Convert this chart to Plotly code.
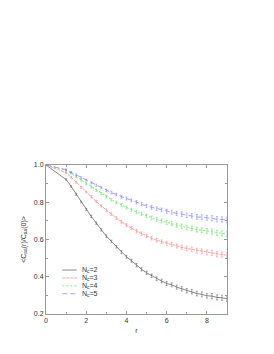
import plotly.graph_objects as go

r = [0, 1, 1.25, 1.5, 1.75, 2, 2.25, 2.5, 2.75, 3, 3.25, 3.5, 3.75, 4, 4.25, 4.5, 4.75,
     5, 5.25, 5.5, 5.75, 6, 6.25, 6.5, 6.75, 7, 7.25, 7.5, 7.75, 8, 8.25, 8.5, 8.75, 9]

c_n2 = [1.0, 0.922, 0.885, 0.843, 0.801, 0.761, 0.724, 0.688, 0.652, 0.618, 0.590, 0.561,
        0.532, 0.507, 0.486, 0.462, 0.440, 0.421, 0.405, 0.389, 0.377, 0.364, 0.357, 0.344,
        0.335, 0.325, 0.320, 0.310, 0.305, 0.298, 0.296, 0.289, 0.287, 0.282]
c_n3 = [1.0, 0.959, 0.934, 0.907, 0.880, 0.855, 0.830, 0.804, 0.780, 0.757, 0.736, 0.715,
        0.695, 0.677, 0.661, 0.645, 0.632, 0.618, 0.607, 0.596, 0.588, 0.579, 0.573, 0.565,
        0.558, 0.552, 0.547, 0.540, 0.536, 0.530, 0.528, 0.521, 0.519, 0.516]
c_n4 = [1.0, 0.972, 0.955, 0.937, 0.918, 0.900, 0.882, 0.864, 0.846, 0.829, 0.814, 0.799,
        0.785, 0.772, 0.760, 0.748, 0.737, 0.725, 0.716, 0.707, 0.700, 0.691, 0.685, 0.677,
        0.671, 0.664, 0.660, 0.653, 0.650, 0.645, 0.642, 0.635, 0.633, 0.629]
c_n5 = [1.0, 0.975, 0.961, 0.947, 0.932, 0.918, 0.904, 0.891, 0.877, 0.864, 0.852, 0.841,
        0.830, 0.820, 0.810, 0.800, 0.790, 0.780, 0.773, 0.765, 0.759, 0.752, 0.747, 0.740,
        0.736, 0.730, 0.727, 0.721, 0.720, 0.716, 0.714, 0.709, 0.708, 0.704]

err = [0.0, 0.004, 0.004, 0.005, 0.005, 0.005, 0.006, 0.006, 0.006, 0.007, 0.007, 0.007,
       0.008, 0.008, 0.008, 0.009, 0.009, 0.009, 0.010, 0.010, 0.010, 0.011, 0.011, 0.011,
       0.012, 0.012, 0.012, 0.013, 0.013, 0.013, 0.014, 0.014, 0.014, 0.015]

n_values = [2, 3, 4, 5]
series = [c_n2, c_n3, c_n4, c_n5]
colors = ["#555555", "#ff7878", "#50dd50", "#7878ff"]
dashes = ["solid", "3px,1px", "2px,2px", "5px,3px"]

x_ticks = [0, 2, 4, 6, 8]
y_ticks = [0.2, 0.4, 0.6, 0.8, 1.0]
y_tick_labels = ["0.2", "0.4", "0.6", "0.8", "1.0"]

fig = go.Figure()
for n, ys, col, dsh in zip(n_values, series, colors, dashes):
    fig.add_trace(go.Scatter(
        x=r, y=ys, mode="lines", name=f"N<sub>c</sub>={n}",
        line=dict(color=col, width=0.7, dash=dsh),
        error_y=dict(type="data", array=err, visible=True, color=col, thickness=0.5, width=1),
        showlegend=False,
    ))

font = "Liberation Sans, Arial, sans-serif"
frame = "#999999"
txt = "#333333"
axis_common = dict(showline=True, linecolor=frame, linewidth=1, mirror="ticks",
                   ticks="inside", ticklen=3, tickcolor=frame, showgrid=False, zeroline=False,
                   tickfont=dict(size=7, color=txt, family=font))
fig.update_xaxes(range=[0, 9], tickvals=x_ticks,
                 title=dict(text="r", font=dict(size=7, color=txt, family=font), standoff=4),
                 minor=dict(dtick=1, ticks="inside", ticklen=2, tickcolor=frame), **axis_common)
fig.update_yaxes(range=[0.2, 1.0], tickvals=y_ticks, ticktext=y_tick_labels,
                 title=dict(text="<C<sub>aa</sub>(r)/C<sub>aa</sub>(0)>", font=dict(size=7, color=txt, family=font), standoff=6),
                 minor=dict(dtick=0.1, ticks="inside", ticklen=2, tickcolor=frame), **axis_common)

# legend drawn manually (compact rows)
for i, (n, col, dsh) in enumerate(zip(n_values, colors, dashes)):
    yp = 0.295 - i * 0.053
    fig.add_shape(type="line", xref="paper", yref="paper", x0=0.09, x1=0.17, y0=yp, y1=yp,
                  line=dict(color=col, width=0.7, dash=dsh))
    fig.add_annotation(xref="paper", yref="paper", x=0.19, y=yp, xanchor="left", yanchor="middle",
                       text=f"N<sub>c</sub>={n}", showarrow=False,
                       font=dict(size=7, color=txt, family=font))

fig.update_layout(width=258, height=338, margin=dict(l=38, r=39, t=157, b=32),
                  plot_bgcolor="white", paper_bgcolor="white")
fig.write_html("out.html")
